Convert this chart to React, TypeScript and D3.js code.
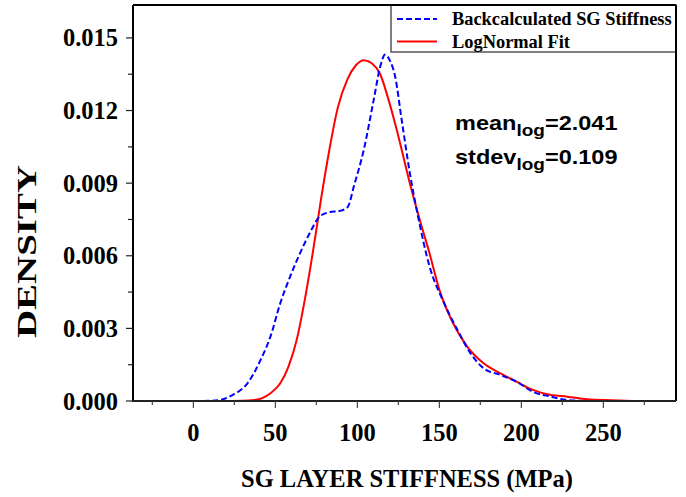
import * as d3 from "d3";

// Backcalculated SG stiffness (dashed blue)
const backStiff = [6, 16, 24, 33, 41, 47, 53, 59, 65, 71, 77, 83, 89, 94, 98, 104, 110, 114, 117, 120, 123, 127, 132, 137, 144, 152, 161, 169, 177, 187, 197, 207, 218, 228, 240];
const backDensity = [0, 0.00004, 0.00025, 0.00073, 0.0017, 0.00266, 0.00404, 0.00514, 0.0061, 0.00694, 0.00762, 0.0078, 0.00785, 0.008, 0.0089, 0.0104, 0.01245, 0.01383, 0.01431, 0.01404, 0.01342, 0.01163, 0.00942, 0.00763, 0.00556, 0.00418, 0.00294, 0.00197, 0.00135, 0.00108, 0.0008, 0.00038, 0.00018, 0.00004, 0];

// LogNormal fit (solid red)
const fitStiff = [16, 30, 37, 42, 47, 53, 58, 63, 68, 73, 78, 83, 88, 94, 99, 104, 109, 114, 119, 124, 132, 138, 144, 150, 157, 167, 177, 187, 197, 207, 218, 228, 240, 255, 268];
const fitDensity = [0, 0.00001, 0.00004, 0.00012, 0.00032, 0.00073, 0.00142, 0.00252, 0.0042, 0.0062, 0.0084, 0.0104, 0.0121, 0.0133, 0.01386, 0.01408, 0.01394, 0.01349, 0.01245, 0.01121, 0.009, 0.0075, 0.0061, 0.0046, 0.0034, 0.00225, 0.00156, 0.00115, 0.0008, 0.00046, 0.00025, 0.00018, 0.00007, 0.00003, 0];

const xMajor = [0, 50, 100, 150, 200, 250];
const xMinor = [-25, 25, 75, 125, 175, 225, 275];
const yMajor = [0, 0.003, 0.006, 0.009, 0.012, 0.015];
const yMinor = [0.0015, 0.0045, 0.0075, 0.0105, 0.0135];

const legendLabels = ["Backcalculated SG Stiffness", "LogNormal Fit"];

const W = 686;
const H = 497;
const left = 133, right = 676, top = 5, bottom = 401;

export default function App() {
  const x = d3.scaleLinear().domain([-36.8, 294.3]).range([left, right]);
  const y = d3.scaleLinear().domain([0, 0.01636]).range([bottom, top]);

  const line = d3
    .line<number>()
    .x((d) => x(d))
    .curve(d3.curveMonotoneX);

  const backPath = line.y((_, i) => y(backDensity[i]))(backStiff) || "";
  const fitPath = line.y((_, i) => y(fitDensity[i]))(fitStiff) || "";

  const serif = "'Liberation Serif', 'Times New Roman', serif";
  const sans = "'Liberation Sans', Arial, Helvetica, sans-serif";

  return (
    <svg
      width={W}
      height={H}
      style={{ position: "absolute", left: 0, top: 0, display: "block", background: "#fff" }}
    >
      {/* curves */}
      <path d={fitPath} fill="none" stroke="#ff0000" strokeWidth={2} />
      <path d={backPath} fill="none" stroke="#0000ff" strokeWidth={2} strokeDasharray="6,3" />

      {/* legend */}
      <rect x={391} y={5} width={285} height={47} fill="#fff" stroke="#555" strokeWidth={1.5} />
      <line x1={397} x2={437} y1={19} y2={19} stroke="#0000ff" strokeWidth={2} strokeDasharray="6,3" />
      <line x1={397} x2={437} y1={41.5} y2={41.5} stroke="#ff0000" strokeWidth={2} />
      {legendLabels.map((t, i) => (
        <text
          key={t}
          x={452}
          y={19 + i * 22.5}
          dy="0.35em"
          fontFamily={serif}
          fontWeight="bold"
          fontSize={18.4}
          fill="#000"
        >
          {t}
        </text>
      ))}

      {/* frame */}
      <line x1={left} x2={right} y1={top} y2={top} stroke="#000" strokeWidth={2} />
      <line x1={right} x2={right} y1={top} y2={bottom} stroke="#000" strokeWidth={2} />
      <line x1={left} x2={left} y1={top} y2={bottom + 1} stroke="#000" strokeWidth={2} />
      <line x1={left} x2={right} y1={bottom} y2={bottom} stroke="#222" strokeWidth={2} />

      {/* x ticks */}
      {xMajor.map((v) => (
        <g key={"xm" + v}>
          <line x1={x(v)} x2={x(v)} y1={bottom} y2={bottom + 7} stroke="#444" strokeWidth={1.2} />
          <text
            x={x(v)}
            y={440.5}
            textAnchor="middle"
            fontFamily={serif}
            fontWeight="bold"
            fontSize={24.5}
            fill="#000"
          >
            {v}
          </text>
        </g>
      ))}
      {xMinor.map((v) => (
        <line key={"xn" + v} x1={x(v)} x2={x(v)} y1={bottom} y2={bottom + 4} stroke="#444" strokeWidth={1.2} />
      ))}

      {/* y ticks */}
      {yMajor.map((v) => (
        <g key={"ym" + v}>
          <line x1={left - 7} x2={left} y1={y(v)} y2={y(v)} stroke="#222" strokeWidth={1.2} />
          <text
            x={118}
            y={y(v)}
            dy="0.35em"
            textAnchor="end"
            fontFamily={serif}
            fontWeight="bold"
            fontSize={24.5}
            fill="#000"
          >
            {d3.format(".3f")(v)}
          </text>
        </g>
      ))}
      {yMinor.map((v) => (
        <line key={"yn" + v} x1={left - 5} x2={left} y1={y(v)} y2={y(v)} stroke="#222" strokeWidth={1.2} />
      ))}

      {/* axis titles */}
      <text
        x={407}
        y={486.5}
        textAnchor="middle"
        fontFamily={serif}
        fontWeight="bold"
        fontSize={24.5}
        fill="#000"
      >
        SG LAYER STIFFNESS (MPa)
      </text>
      <text
        transform="translate(36,251.5) rotate(-90)"
        textAnchor="middle"
        fontFamily={serif}
        fontWeight="bold"
        fontSize={27}
        textLength={173}
        lengthAdjust="spacingAndGlyphs"
        fill="#000"
      >
        DENSITY
      </text>

      {/* annotation */}
      <g transform="translate(455,129.5) scale(1.12,1)" fontFamily={sans} fontWeight="bold" fill="#000">
        <text fontSize={21}>
          mean
          <tspan fontSize={17} dy={6}>log</tspan>
          <tspan fontSize={21} dy={-6}>=2.041</tspan>
        </text>
        <text y={34.5} fontSize={21}>
          stdev
          <tspan fontSize={17} dy={6}>log</tspan>
          <tspan fontSize={21} dy={-6}>=0.109</tspan>
        </text>
      </g>
    </svg>
  );
}
